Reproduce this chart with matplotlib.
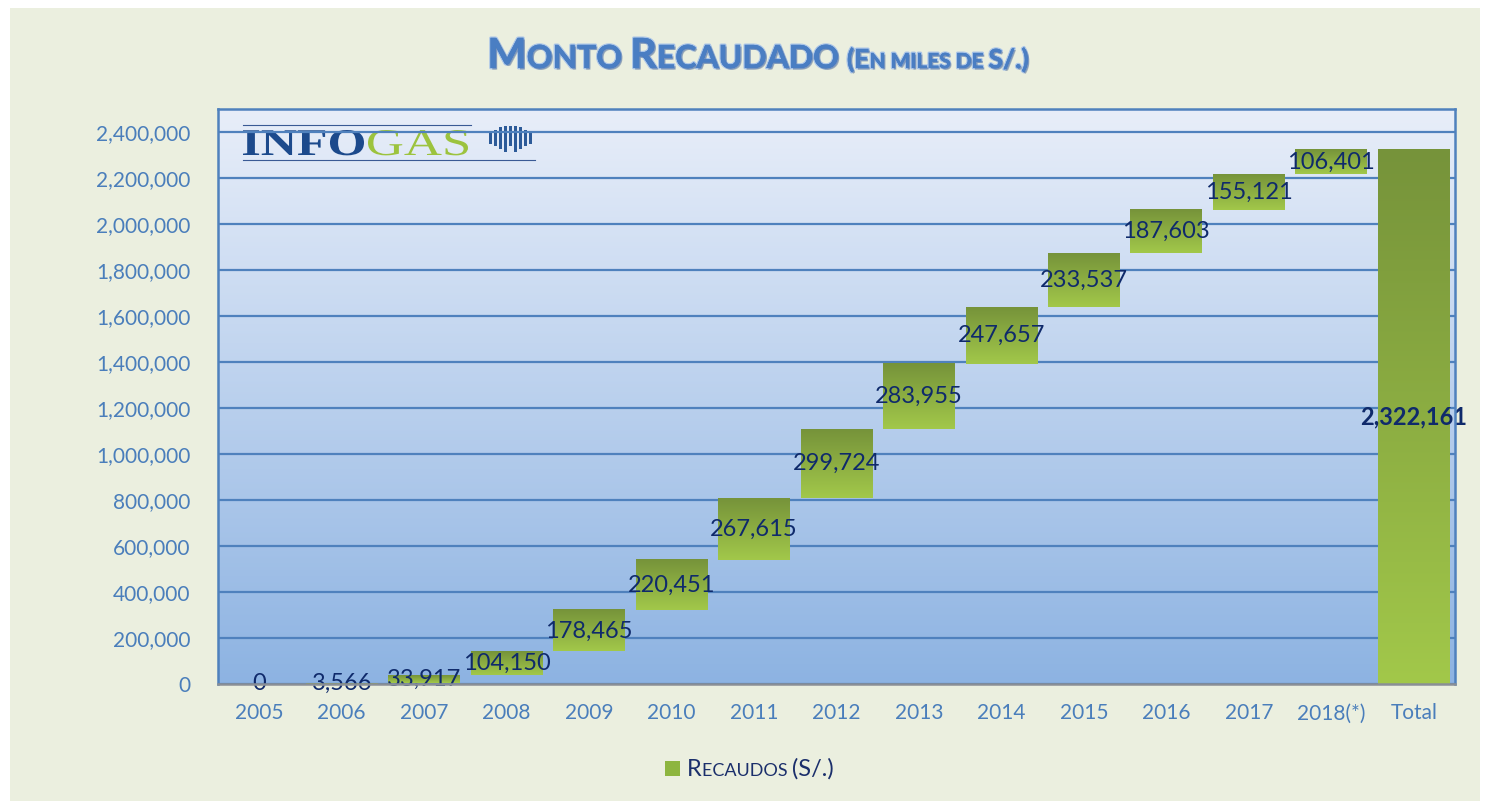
import numpy as np
import matplotlib
matplotlib.use("Agg")
import matplotlib.pyplot as plt
from matplotlib.patches import Rectangle, PathPatch
from matplotlib.colors import LinearSegmentedColormap
from matplotlib.textpath import TextPath
from matplotlib.font_manager import FontProperties
from matplotlib.transforms import Affine2D
from matplotlib.lines import Line2D
import matplotlib.patheffects as pe

categories = ["2005", "2006", "2007", "2008", "2009", "2010", "2011", "2012",
              "2013", "2014", "2015", "2016", "2017", "2018(*)", "Total"]
increments = [0, 3566, 33917, 104150, 178465, 220451, 267615, 299724,
              283955, 247657, 233537, 187603, 155121, 106401]
total_value = 2322161
yticks = list(range(0, 2400001, 200000))

FONT = ["Lato", "DejaVu Sans"]
plt.rcParams['font.family'] = FONT

W, H = 1490, 808
fig = plt.figure(figsize=(W / 100, H / 100), dpi=100)
fig.patch.set_facecolor("white")
fig.patches.append(Rectangle((10 / W, 7 / H), 1470 / W, 793 / H, transform=fig.transFigure,
                             facecolor="#EBEFDF", edgecolor="none", zorder=-10))

ax = fig.add_axes([218 / W, 1 - 684 / H, (1455 - 218) / W, (684 - 109) / H])
ax.set_xlim(-0.5, len(categories) - 0.5)
ax.set_ylim(0, 2500000)

# plot-area gradient background
bg_cmap = LinearSegmentedColormap.from_list("bg", ["#8DB3E2", "#E8EEF9"])
grad = np.linspace(0, 1, 256).reshape(-1, 1)
ax.imshow(grad, cmap=bg_cmap, origin="lower", aspect="auto",
          extent=[0, 1, 0, 1], transform=ax.transAxes, zorder=0)

for t in yticks:
    ax.axhline(t, color="#4F81BD", lw=1.6, zorder=1)

bar_cmap = LinearSegmentedColormap.from_list("bar", ["#A2C84A", "#76933A"])
bw = 0.87
starts = np.concatenate([[0], np.cumsum(increments)[:-1]])
label_color = "#0F2A6B"
for i, (s, v) in enumerate(zip(starts, increments)):
    if v > 0:
        ax.imshow(grad, cmap=bar_cmap, origin="lower", aspect="auto",
                  extent=[i - bw / 2, i + bw / 2, s, s + v], zorder=2)
    ax.text(i, s + v / 2, f"{v:,}", ha="center", va="center", fontsize=17,
            color=label_color, zorder=5)
it = len(categories) - 1
ax.imshow(grad, cmap=bar_cmap, origin="lower", aspect="auto",
          extent=[it - bw / 2, it + bw / 2, 0, total_value], zorder=2)
ax.text(it, total_value / 2, f"{total_value:,}", ha="center", va="center", fontsize=17,
        color=label_color, fontweight="bold", zorder=5)

ax.set_xlim(-0.5, len(categories) - 0.5)
ax.set_ylim(0, 2500000)
ax.set_xticks(range(len(categories)))
ax.set_xticklabels(categories)
ax.set_yticks(yticks)
ax.set_yticklabels([f"{t:,}" for t in yticks])
ax.tick_params(axis="both", length=0, labelsize=15, labelcolor="#4A7EBB")
ax.tick_params(axis="x", pad=14)
ax.tick_params(axis="y", pad=20)
for side in ["left", "right", "top"]:
    ax.spines[side].set_color("#4F81BD")
    ax.spines[side].set_linewidth(1.8)
ax.spines["bottom"].set_color("#8A8F96")
ax.spines["bottom"].set_linewidth(1.8)
for sp in ax.spines.values():
    sp.set_zorder(6)


# ---- logo (display pixel coords, y measured from top) ----
def stretched_text(txt, x0, x1, base_y, cap_h, color, weight):
    fp = FontProperties(family="Liberation Serif", weight=weight)
    p = TextPath((0, 0), txt, size=40, prop=fp)
    ext = p.get_extents()
    sx = (x1 - x0) / ext.width
    sy = cap_h / ext.y1
    tr = Affine2D().translate(-ext.x0, 0).scale(sx, sy).translate(x0, H - base_y)
    patch = PathPatch(p, transform=tr, facecolor=color, edgecolor="none", zorder=0.5, clip_on=False)
    ax.add_patch(patch)


stretched_text("INFO", 243, 364, 155, 25, "#1C4A8C", "bold")
stretched_text("GAS", 368, 468, 155, 25, "#9CC33E", "normal")
for (xa, xb, yy) in [(243, 471, 125), (243, 535, 160)]:
    ax.add_line(Line2D([xa, xb], [H - yy, H - yy], transform=Affine2D(), color="#3A5A95",
                       lw=0.8, zorder=0.6, clip_on=False))
icon_x = [489, 494, 499, 504, 509, 514, 519, 524, 529]
icon_top = [133, 130, 127, 126, 126, 126, 127, 130, 133]
icon_bot = [144, 146, 149, 152, 146, 152, 149, 146, 144]
for xx, yt, yb in zip(icon_x, icon_top, icon_bot):
    ax.add_patch(Rectangle((xx, H - yb), 3.2, yb - yt, transform=Affine2D(),
                           facecolor="#2D5B99", edgecolor="none", zorder=0.6, clip_on=False))

# ---- small caps helper ----
renderer = fig.canvas.get_renderer()


def small_caps(pieces, x0, y0, color, weight="normal", effects=None, ha="center"):
    objs = []
    widths = []
    for txt, size in pieces:
        t = fig.text(0, y0, txt, fontsize=size, color=color, fontweight=weight,
                     ha="left", va="baseline", path_effects=effects)
        bb = t.get_window_extent(renderer=renderer)
        objs.append(t)
        widths.append(bb.width)
    total = sum(widths)
    x = x0 * W - (total / 2 if ha == "center" else 0)
    for t, w in zip(objs, widths):
        t.set_x(x / W)
        x += w


title_fx = [pe.withStroke(linewidth=2.0, foreground="#A9C4E8"),
            pe.withSimplePatchShadow(offset=(1.2, -1.2), shadow_rgbFace="#1F3F73", alpha=0.35),
            pe.Normal()]
small_caps([("M", 30), ("ONTO ", 23), ("R", 30), ("ECAUDADO ", 23),
            ("(E", 19), ("N MILES DE ", 15), ("S/.)", 19)],
           758 / W, 1 - 68 / H, "#4A7EC3", weight="bold", effects=title_fx)

# ---- legend ----
fig.patches.append(Rectangle((665 / W, 1 - 776 / H), 15 / W, 15 / H, transform=fig.transFigure,
                             facecolor="#8DB53F", edgecolor="none"))
small_caps([("R", 17), ("ECAUDOS ", 13), ("(S/.)", 17)], 687 / W, 1 - 776 / H,
           "#1B2F6B", ha="left")

fig.savefig("out.png", dpi=100, facecolor=fig.get_facecolor())
